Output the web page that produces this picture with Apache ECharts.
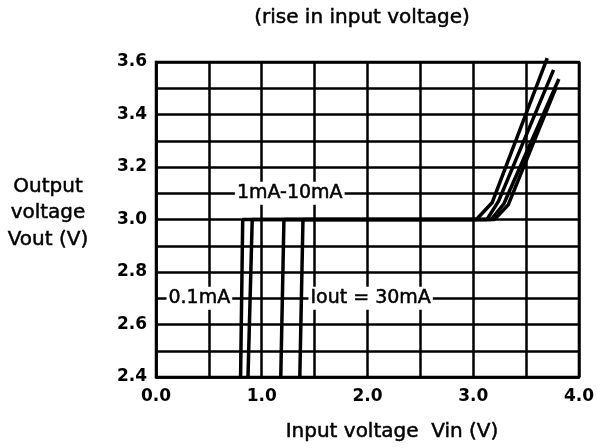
<!DOCTYPE html>
<html>
<head>
<meta charset="utf-8">
<script src="https://cdn.jsdelivr.net/npm/echarts@6/dist/echarts.min.js"></script>
<style>
  html, body { margin: 0; padding: 0; background: #fff; overflow: hidden; }
  #chart { width: 597px; height: 448px; }
</style>
</head>
<body>
<div id="chart"></div>
<script>
// Vout vs Vin while the input voltage rises, one curve per load current
const curve01mA = [[0.80, 2.4], [0.82, 3.0], [3.03, 3.0], [3.18, 3.065], [3.70, 3.615]];
const curve1mA  = [[0.87, 2.4], [0.91, 3.0], [3.13, 3.0], [3.24, 3.07], [3.76, 3.57]];
const curve10mA = [[1.18, 2.4], [1.21, 3.0], [3.17, 3.0], [3.29, 3.06], [3.81, 3.535]];
const curve30mA = [[1.36, 2.4], [1.39, 3.0], [3.20, 3.0], [3.33, 3.055], [3.78, 3.50]];

// Load-current callouts, anchored in data units (Vin, Vout)
const callouts = [
  { name: '1mA-10mA', value: [1.265, 3.1] },
  { name: '0.1mA', value: [0.41, 2.7] },
  { name: 'Iout = 30mA', value: [2.03, 2.7] }
];

const ink = '#000';
const textFont = 'DejaVu Sans';

const chart = echarts.init(document.getElementById('chart'), null, { renderer: 'canvas' });

function curve(data) {
  return {
    type: 'line',
    data: data,
    symbol: 'none',
    clip: false,
    lineStyle: { color: ink, width: 3.5 },
    z: 3
  };
}

// medium-weight text: regular face with a hairline outline
const mediumText = { fill: '#000', stroke: '#000', lineWidth: 0.5 };

chart.setOption({
  animation: false,
  backgroundColor: '#fff',
  grid: {
    left: 156, top: 62, right: 14, bottom: 71,
    show: true, borderColor: ink, borderWidth: 2.5
  },
  xAxis: {
    type: 'value',
    min: 0, max: 4, interval: 0.5,
    axisLine: { show: true, lineStyle: { color: ink, width: 2.5 } },
    axisTick: { show: false },
    splitLine: { show: true, lineStyle: { color: ink, width: 2.5 } },
    axisLabel: {
      margin: 11,
      color: '#000',
      fontFamily: textFont,
      fontWeight: 'bold',
      fontSize: 17,
      formatter: v => (Math.abs(v - Math.round(v)) < 1e-6 ? v.toFixed(1) : '')
    }
  },
  yAxis: {
    type: 'value',
    min: 2.4, max: 3.6, interval: 0.1,
    axisLine: { show: true, lineStyle: { color: ink, width: 2.5 } },
    axisTick: { show: false },
    splitLine: { show: true, lineStyle: { color: ink, width: 2.5 } },
    axisLabel: {
      margin: 9,
      color: '#000',
      fontFamily: textFont,
      fontWeight: 'bold',
      fontSize: 17,
      padding: [9, 0, 0, 0],
      formatter: v => (Math.round(v * 10) % 2 === 0 ? v.toFixed(1) : '')
    }
  },
  graphic: [
    {
      type: 'text', x: 362, y: 18,
      style: Object.assign({
        text: '(rise in input voltage)',
        font: '20px "DejaVu Sans"', textAlign: 'center', textVerticalAlign: 'middle'
      }, mediumText)
    },
    {
      type: 'text', x: 48, y: 213,
      style: Object.assign({
        text: 'Output\nvoltage\nVout (V)',
        font: '20px "DejaVu Sans"', lineHeight: 26.5,
        textAlign: 'center', textVerticalAlign: 'middle'
      }, mediumText)
    },
    {
      type: 'text', x: 392, y: 432,
      style: Object.assign({
        text: 'Input voltage  Vin (V)',
        font: '20px "DejaVu Sans"', textAlign: 'center', textVerticalAlign: 'middle'
      }, mediumText)
    }
  ],
  series: [
    curve(curve01mA),
    curve(curve1mA),
    curve(curve10mA),
    curve(curve30mA),
    {
      type: 'scatter',
      data: callouts,
      symbolSize: 0,
      z: 4,
      itemStyle: { opacity: 1 },
      label: {
        show: true,
        position: 'inside',
        formatter: p => p.name,
        color: '#000',
        textBorderColor: '#000',
        textBorderWidth: 0.5,
        opacity: 1,
        fontFamily: textFont,
        fontSize: 19,
        backgroundColor: '#fff',
        padding: [2, 2, 2, 2]
      }
    }
  ]
});
</script>
</body>
</html>
